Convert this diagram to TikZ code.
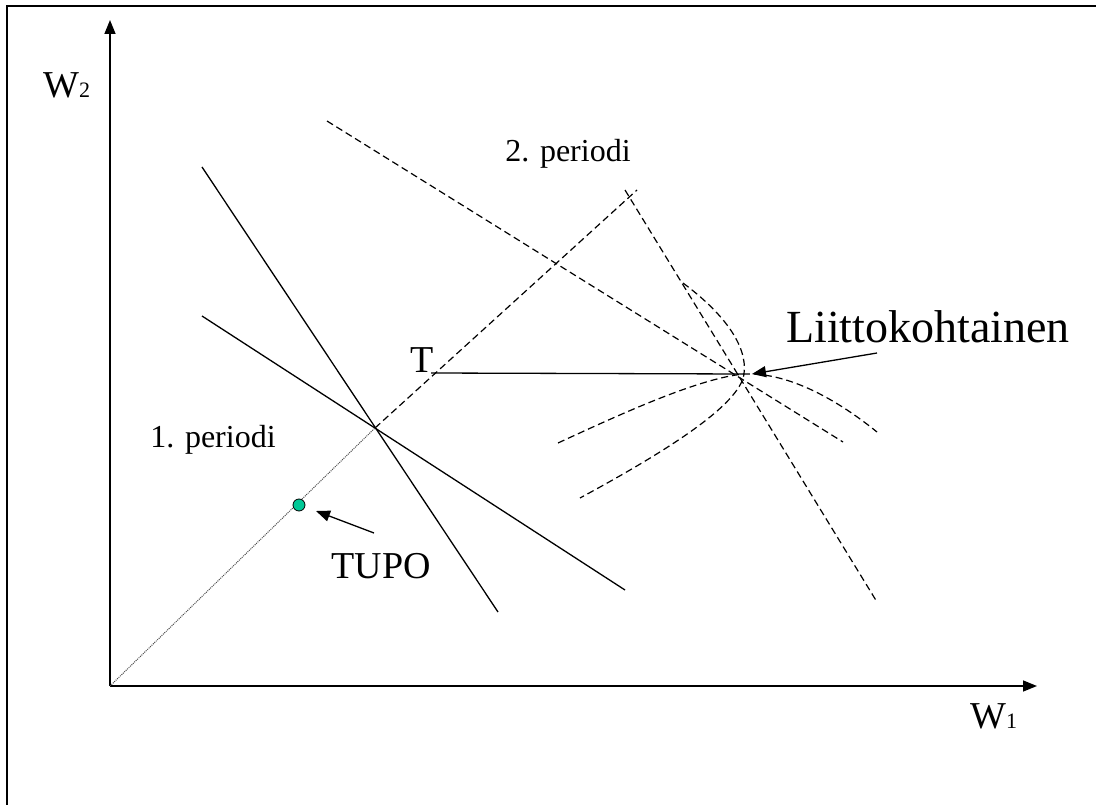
\documentclass[tikz,border=0pt]{standalone}
\usepackage{fontspec}
\setmainfont{Liberation Serif}
\usetikzlibrary{arrows.meta}
\tikzset{
  lbl/.style={inner sep=0pt, font=\fontsize{32}{36}\selectfont},
  big/.style={inner sep=0pt, font=\fontsize{38}{42}\selectfont},
  axis/.style={line width=1.5pt, -{Triangle[length=14pt,width=11pt]}},
  solidln/.style={line width=1.3pt},
  dashln/.style={line width=1.2pt, dash pattern=on 7pt off 4pt},
  dotln/.style={line width=1pt, dash pattern=on 1pt off 1pt, draw=black!70},
  pointer/.style={line width=1.3pt, -{Triangle[length=14pt,width=11pt]}},
}
\newcommand{\subsm}[1]{{\fontsize{22}{24}\selectfont #1}}
\begin{document}
\begin{tikzpicture}[x=1pt,y=-1pt]
\useasboundingbox (0,0) rectangle (1096,805);
\draw[line width=2pt] (1110,6.5) -- (7,6.5) -- (7,815);
% axes
\coordinate (O) at (110,686);
\coordinate (Ytop) at (110,20);
\coordinate (Xend) at (1037,686);
\draw[axis] (O) -- (Ytop);
\draw[axis] (O) -- (Xend);
\node[big, anchor=base west] (w2) at (43,98) {W\subsm{2}};
\node[big, anchor=base west] (w1) at (970,728) {W\subsm{1}};
% first period budget lines
\coordinate (a1) at (202,167);
\coordinate (a2) at (498,612);
\coordinate (b1) at (202,316);
\coordinate (b2) at (625,590);
\coordinate (X) at (375,428);
\draw[solidln] (a1) -- (a2);
\draw[solidln] (b1) -- (b2);
% ray
\coordinate (R) at (637,190);
\draw[dotln] (O) -- (X);
\draw[dashln] (X) -- (R);
% second period dashed lines
\coordinate (c1) at (327,121);
\coordinate (c2) at (843,442);
\coordinate (d1) at (625,190);
\coordinate (d2) at (877,602);
\draw[dashln] (c1) -- (c2);
\draw[dashln] (d1) -- (d2);
% T line
\coordinate (P) at (744,374);
\node[big, anchor=base] (T) at (422,372) {T};
\coordinate (Tstart) at (431,373);
\draw[solidln] (Tstart) -- (P);
% indifference curves
\coordinate (e1) at (683,283);
\coordinate (e2) at (580,498);
\draw[dashln] (e1) .. controls (722,312) and (748,345) .. (P)
              .. controls (740,405) and (665,452) .. (e2);
\coordinate (f1) at (558,443);
\coordinate (f2) at (877,432);
\draw[dashln] (f1) .. controls (625,412) and (700,378) .. (P)
              .. controls (790,372) and (840,402) .. (f2);
% labels
\node[lbl, anchor=base] (p1) at (213,447) {1. periodi};
\node[lbl, anchor=base] (p2) at (568,162) {2. periodi};
\node[inner sep=0pt, font=\fontsize{46}{50}\selectfont, anchor=base west] (L) at (786,343) {Liittokohtainen};
\coordinate (Ltail) at (877,353);
\coordinate (Ltip) at (752,374);
\draw[pointer] (Ltail) -- (Ltip);
% TUPO
\node[circle, draw=black, line width=0.8pt, fill={rgb,255:red,0;green,200;blue,150}, minimum size=12pt, inner sep=0pt] (dot) at (299,505) {};
\node[big, anchor=base] (tupo) at (381,578) {TUPO};
\coordinate (Ttail) at (374,533);
\coordinate (Ttip) at (316,511);
\draw[pointer] (Ttail) -- (Ttip);
\end{tikzpicture}
\end{document}
